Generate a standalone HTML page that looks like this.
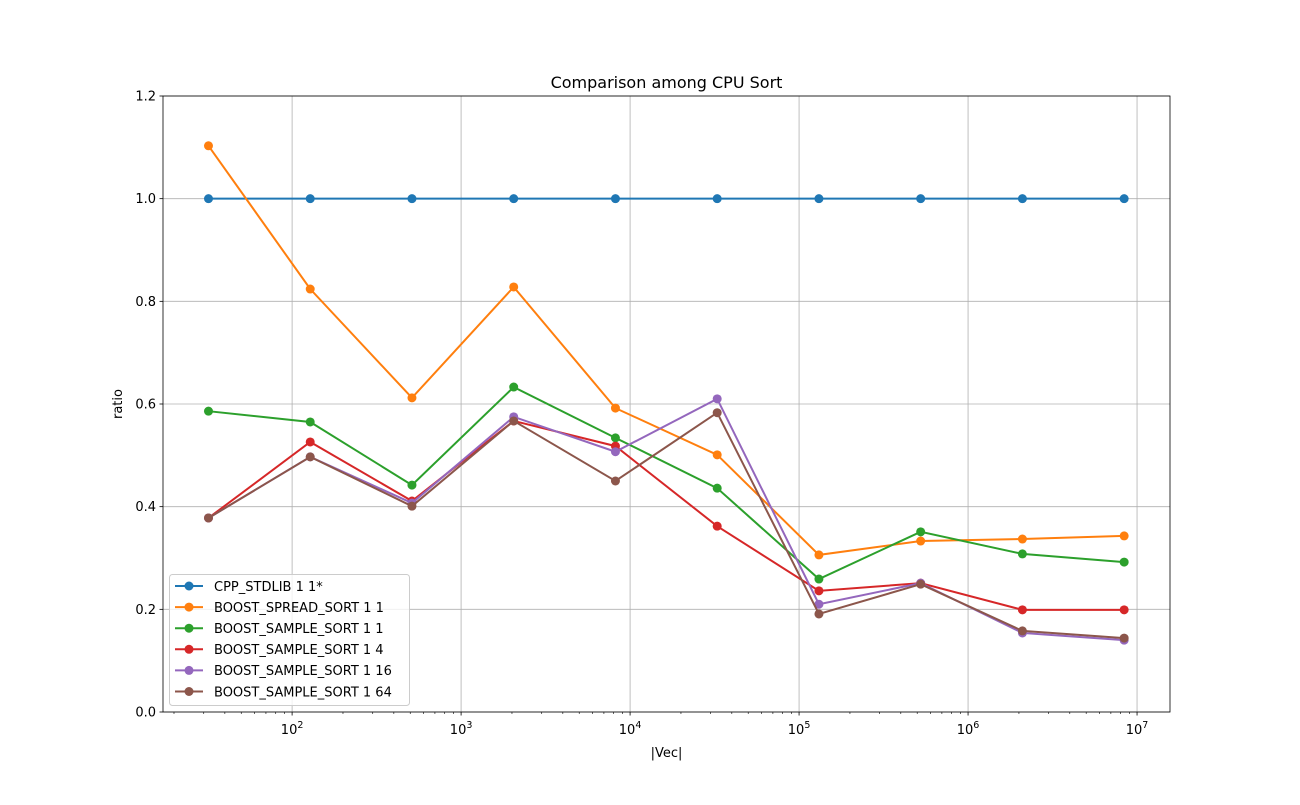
<!DOCTYPE html>
<html><head><meta charset="utf-8"><style>
html,body{margin:0;padding:0;background:#fff;}
svg text{font-family:"DejaVu Sans","Liberation Sans",sans-serif;fill:#000;}
</style></head><body>
<svg id="chart" width="1300" height="800" xmlns="http://www.w3.org/2000/svg"></svg>
<script>
const xExponents = [5,7,9,11,13,15,17,19,21,23];
const seriesNames = ["CPP_STDLIB 1 1*","BOOST_SPREAD_SORT 1 1","BOOST_SAMPLE_SORT 1 1","BOOST_SAMPLE_SORT 1 4","BOOST_SAMPLE_SORT 1 16","BOOST_SAMPLE_SORT 1 64"];
const seriesColors = ["#1f77b4","#ff7f0e","#2ca02c","#d62728","#9467bd","#8c564b"];
const cppValues = [1,1,1,1,1,1,1,1,1,1];
const spreadValues = [1.103,0.824,0.612,0.828,0.592,0.501,0.306,0.333,0.337,0.343];
const sample1Values = [0.586,0.565,0.442,0.633,0.534,0.436,0.259,0.351,0.308,0.292];
const sample4Values = [0.378,0.526,0.411,0.567,0.518,0.362,0.236,0.251,0.199,0.199];
const sample16Values = [0.378,0.497,0.407,0.575,0.507,0.610,0.210,0.251,0.154,0.140];
const sample64Values = [0.378,0.497,0.401,0.567,0.450,0.583,0.191,0.249,0.158,0.144];
const yTicks = [0,0.2,0.4,0.6,0.8,1.0,1.2];
const xDecades = [2,3,4,5,6,7];

const L=163,R=1170,T=96,B=712;
const xmin=1.236,xmax=7.195,ymin=0,ymax=1.2;
const sx=v=>L+(Math.log10(v)-xmin)/(xmax-xmin)*(R-L);
const sy=v=>B-(v-ymin)/(ymax-ymin)*(B-T);
const svg=document.getElementById('chart');
const NS="http://www.w3.org/2000/svg";
function mk(tag,attrs,parent){const e=document.createElementNS(NS,tag);for(const k in attrs)e.setAttribute(k,attrs[k]);(parent||svg).appendChild(e);return e;}

for(const d of xDecades){const x=sx(Math.pow(10,d));
 const g=mk('line',{x1:x,x2:x,y1:T,y2:B,stroke:'#b0b0b0','stroke-width':0.8});
 
 }
for(const t of yTicks){const y=sy(t);
 const g=mk('line',{x1:L,x2:R,y1:y,y2:y,stroke:'#b0b0b0','stroke-width':0.8});
 
 }
for(let d=1;d<=7;d++){for(let m=1;m<10;m++){const v=m*Math.pow(10,d);const lv=Math.log10(v);if(lv<xmin||lv>xmax)continue;const x=sx(v);
 mk('line',{x1:x,x2:x,y1:B,y2:B+(m===1?3.5:2),stroke:'#000','stroke-width':m===1?0.8:0.6});}}
for(const d of xDecades){const x=sx(Math.pow(10,d));
 const t=mk('text',{x:x,y:B+22,'font-size':13,'text-anchor':'middle'});
 
 
 t.innerHTML='10<tspan dy="-6" font-size="9.5">'+d+'</tspan>';}
for(const t of yTicks){const y=sy(t);
 mk('line',{x1:L-3.5,x2:L,y1:y,y2:y,stroke:'#000','stroke-width':0.8});
 const e=mk('text',{x:L-7,y:y+4.5,'font-size':13,'text-anchor':'end'});
 
 
 e.textContent=t.toFixed(1);}
const allValues=[cppValues,spreadValues,sample1Values,sample4Values,sample16Values,sample64Values];
allValues.forEach((vals,i)=>{
 const g=mk('g',{});
 
 
 const pts=vals.map((v,j)=>sx(Math.pow(2,xExponents[j]))+','+sy(v)).join(' ');
 mk('polyline',{points:pts,fill:'none',stroke:seriesColors[i],'stroke-width':2},g);
 vals.forEach((v,j)=>{const c=mk('circle',{cx:sx(Math.pow(2,xExponents[j])),cy:sy(v),r:4.5,fill:seriesColors[i]},g);
  
  });
});
const f=mk('rect',{x:L,y:T,width:R-L,height:B-T,fill:'none',stroke:'#000','stroke-width':0.8});


let e=mk('text',{x:(L+R)/2,y:88,'font-size':16,'text-anchor':'middle'});


e.textContent='Comparison among CPU Sort';
e=mk('text',{x:(L+R)/2,y:757,'font-size':13,'text-anchor':'middle'});


e.textContent='|Vec|';
e=mk('text',{x:122,y:404,'font-size':13,'text-anchor':'middle',transform:'rotate(-90 122 404)'});


e.textContent='ratio';
const lg=mk('g',{});


mk('rect',{x:169.5,y:574.5,width:240,height:131,rx:3,fill:'#fff','fill-opacity':0.8,stroke:'#ccc'},lg);
seriesNames.forEach((n,i)=>{const y=586+i*21.1;
 const en=mk('g',{},lg);
 
 
 mk('line',{x1:175,x2:203,y1:y,y2:y,stroke:seriesColors[i],'stroke-width':2},en);
 mk('circle',{cx:189,cy:y,r:4.5,fill:seriesColors[i]},en);
 const t=mk('text',{x:214,y:y+4.8,'font-size':13},en);
 t.textContent=n;});
</script>
</body></html>
